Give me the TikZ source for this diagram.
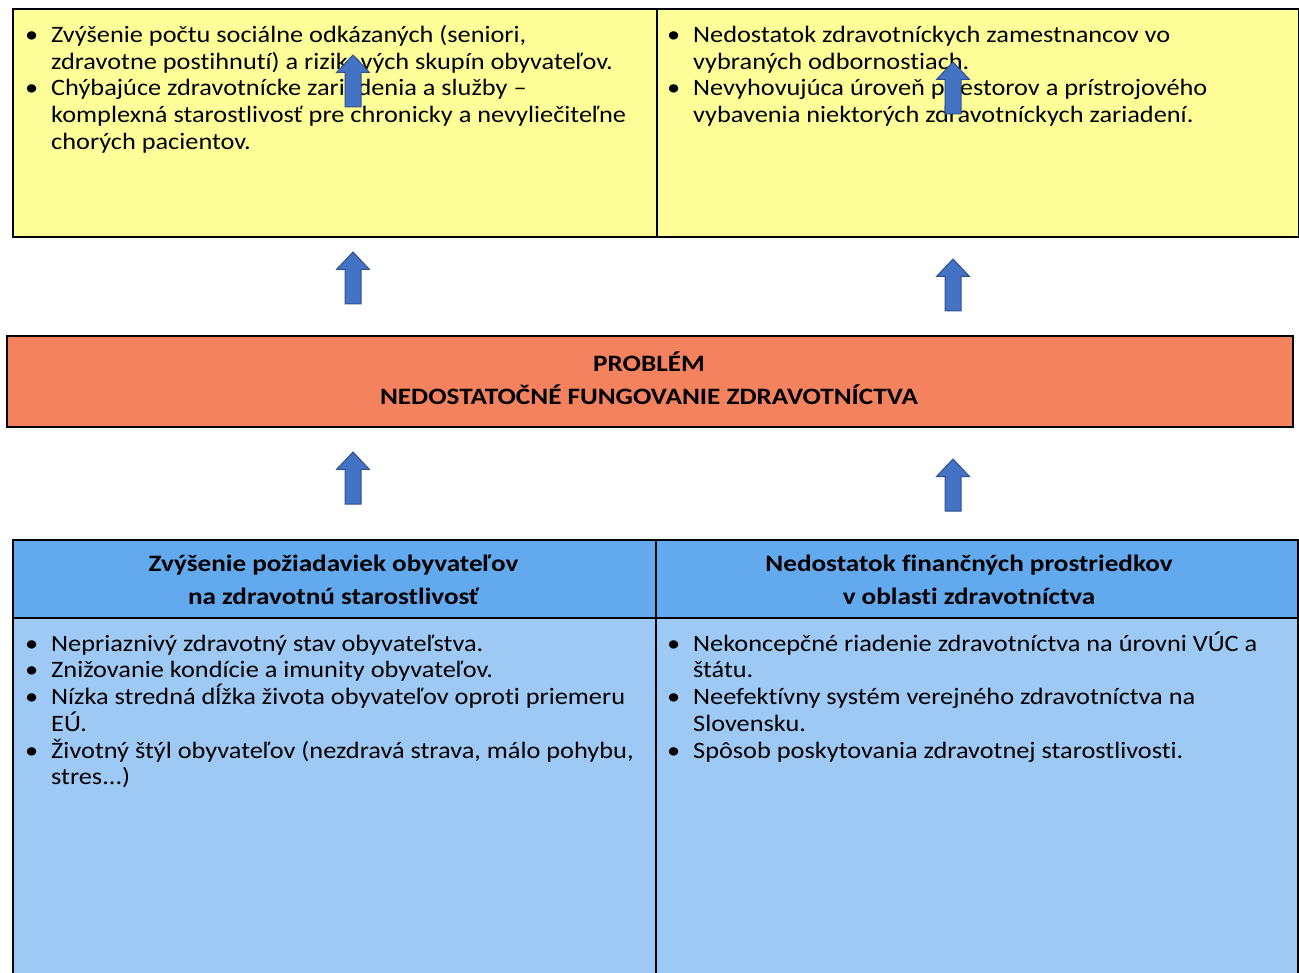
\documentclass[tikz,border=0pt]{standalone}
\usepackage{fontspec}
\setmainfont{Carlito}
\newfontfamily\bodyff[FakeStretch=1.12,Ligatures={NoCommon}]{Carlito}
\newfontfamily\boldff[FakeStretch=1.156,Ligatures={NoCommon}]{Carlito}
\definecolor{yel}{RGB}{255,255,153}
\definecolor{red1}{RGB}{245,130,95}
\definecolor{hblue}{RGB}{99,169,238}
\definecolor{bblue}{RGB}{159,201,245}
\definecolor{afill}{RGB}{68,114,196}
\definecolor{aline}{RGB}{47,82,143}
\newcommand\bodyfont{\bodyff\fontsize{23.5}{26.7}\selectfont}
\newcommand\headfont{\boldff\bfseries\fontsize{23.5}{32.8}\selectfont}
\newcommand\fl{\rule{0pt}{20pt}}
\newcommand\bl{\makebox[26pt][l]{\textbullet}}
\newcommand\ind{\hspace*{26pt}}
\tikzset{
  box/.style={draw=black, line width=1.8pt, anchor=north west, inner sep=0pt},
  txt/.style={anchor=north west, align=left, inner sep=0pt, font=\bodyfont},
  htxt/.style={anchor=north, align=center, inner sep=0pt, font=\headfont},
  uparrow/.pic={\draw[fill=afill, draw=aline, line width=1pt]
     (0,0) -- (16.5,17.5) -- (8,17.5) -- (8,52) -- (-8,52) -- (-8,17.5) -- (-16.5,17.5) -- cycle;}
}
\begin{document}
\begin{tikzpicture}[x=1pt,y=-1pt]
\useasboundingbox (0,0) rectangle (1299,973);
\begin{scope}
\clip (0,0) rectangle (1299,973);
% top boxes
\node[box, fill=yel, minimum width=644, minimum height=228] (tl) at (12,8) {};
\node[box, fill=yel, minimum width=642, minimum height=228] (tr) at (656,8) {};
\node[txt] (tlt) at (25,22.3) {\fl\bl Zvýšenie počtu sociálne odkázaných (seniori,\\
\ind zdravotne postihnutí) a rizikových skupín obyvateľov.\\
\bl Chýbajúce zdravotnícke zariadenia a služby –\\
\ind komplexná starostlivosť pre chronicky a nevyliečiteľne\\
\ind chorých pacientov.};
\node[txt] (trt) at (667,22.3) {\fl\bl Nedostatok zdravotníckych zamestnancov vo\\
\ind vybraných odbornostiach.\\
\bl Nevyhovujúca úroveň priestorov a prístrojového\\
\ind vybavenia niektorých zdravotníckych zariadení.};
% problem box
\node[box, fill=red1, minimum width=1286, minimum height=91] (pb) at (6,335) {};
\node[htxt] (pbt) at (649,351.7) {\fl PROBLÉM\\NEDOSTATOČNÉ FUNGOVANIE ZDRAVOTNÍCTVA};
% bottom boxes
\node[box, fill=bblue, minimum width=643, minimum height=420] (bl) at (12,617) {};
\node[box, fill=bblue, minimum width=642, minimum height=420] (br) at (655,617) {};
\node[box, fill=hblue, minimum width=643, minimum height=78] (hl) at (12,539) {};
\node[box, fill=hblue, minimum width=642, minimum height=78] (hr) at (655,539) {};
\node[htxt] (hlt) at (333.5,551) {\fl Zvýšenie požiadaviek obyvateľov\\na zdravotnú starostlivosť};
\node[htxt] (hrt) at (969,551) {\fl Nedostatok finančných prostriedkov\\v oblasti zdravotníctva};
\node[txt] (blt) at (25,631) {\fl\bl Nepriaznivý zdravotný stav obyvateľstva.\\
\bl Znižovanie kondície a imunity obyvateľov.\\
\bl Nízka stredná dĺžka života obyvateľov oproti priemeru\\
\ind EÚ.\\
\bl Životný štýl obyvateľov (nezdravá strava, málo pohybu,\\
\ind stres...)};
\node[txt] (brt) at (667,631) {\fl\bl Nekoncepčné riadenie zdravotníctva na úrovni VÚC a\\
\ind štátu.\\
\bl Neefektívny systém verejného zdravotníctva na\\
\ind Slovensku.\\
\bl Spôsob poskytovania zdravotnej starostlivosti.};
% arrows
\pic at (353,55) {uparrow};
\pic at (953,62) {uparrow};
\pic at (353,252) {uparrow};
\pic at (953,259) {uparrow};
\pic at (353,452) {uparrow};
\pic at (953,459) {uparrow};
\end{scope}
\end{tikzpicture}
\end{document}
